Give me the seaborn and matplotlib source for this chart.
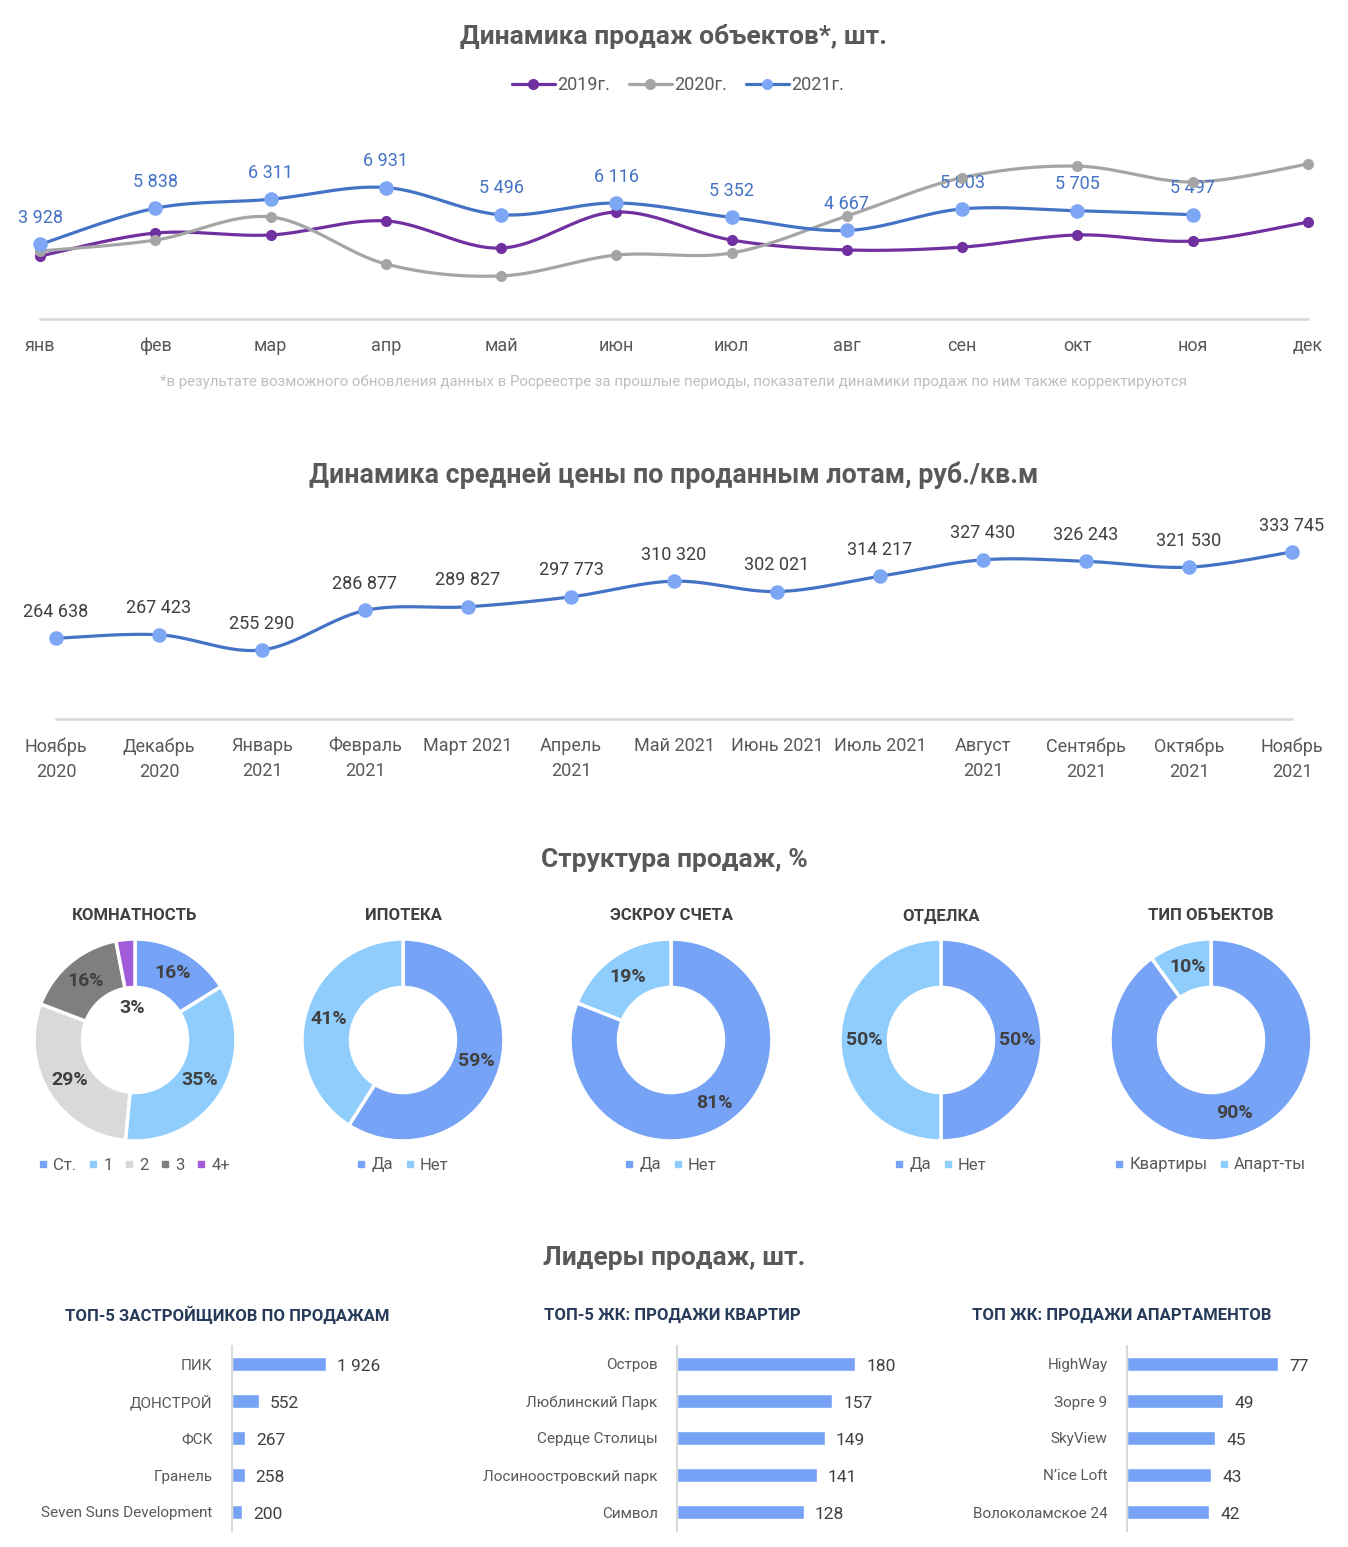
import numpy as np
import matplotlib
matplotlib.use('Agg')
import matplotlib.pyplot as plt
from matplotlib.lines import Line2D
import seaborn as sns

sns.set_theme(style='white')
plt.rcParams['font.family'] = ['Roboto', 'DejaVu Sans']

# ---------- данные ----------
months = ['янв', 'фев', 'мар', 'апр', 'май', 'июн', 'июл', 'авг', 'сен', 'окт', 'ноя', 'дек']
sales_2019 = [3320, 4530, 4430, 5170, 3740, 5640, 4160, 3640, 3790, 4430, 4110, 5110]
sales_2020 = [3580, 4160, 5380, 2900, 2270, 3370, 3480, 5430, 7450, 8060, 7220, 8170]
sales_2021 = [3928, 5838, 6311, 6931, 5496, 6116, 5352, 4667, 5803, 5705, 5497]

price_months = ['Ноябрь\n2020', 'Декабрь\n2020', 'Январь\n2021', 'Февраль\n2021', 'Март 2021',
                'Апрель\n2021', 'Май 2021', 'Июнь 2021', 'Июль 2021', 'Август\n2021',
                'Сентябрь\n2021', 'Октябрь\n2021', 'Ноябрь\n2021']
price = [264638, 267423, 255290, 286877, 289827, 297773, 310320, 302021, 314217,
         327430, 326243, 321530, 333745]

rooms_labels = ['Ст.', '1', '2', '3', '4+']
rooms_share = [16, 35, 29, 16, 3]
mortgage_labels = ['Да', 'Нет']
mortgage_share = [59, 41]
escrow_labels = ['Да', 'Нет']
escrow_share = [81, 19]
finish_labels = ['Да', 'Нет']
finish_share = [50, 50]
type_labels = ['Квартиры', 'Апарт-ты']
type_share = [90, 10]

dev_names = ['ПИК', 'ДОНСТРОЙ', 'ФСК', 'Гранель', 'Seven Suns Development']
dev_sales = [1926, 552, 267, 258, 200]
flat_names = ['Остров', 'Люблинский Парк', 'Сердце Столицы', 'Лосиноостровский парк', 'Символ']
flat_sales = [180, 157, 149, 141, 128]
apt_names = ['HighWay', 'Зорге 9', 'SkyView', 'N’ice Loft', 'Волоколамское 24']
apt_sales = [77, 49, 45, 43, 42]

# ---------- оформление ----------
W, H = 1348, 1547
fig = plt.figure(figsize=(W / 100, H / 100), dpi=100)
fig.patch.set_facecolor('white')

TITLE_C = '#595959'
TEXT_C = '#404040'
BLUE_LINE = '#4472C4'
BLUE_MARK = '#7DA7F5'
MID_BLUE = '#77A3F6'
LIGHT_BLUE = '#8FCDFD'


def px_axes(x0, y0, x1, y1):
    return fig.add_axes([x0 / W, 1 - y1 / H, (x1 - x0) / W, (y1 - y0) / H])


def fig_text(x, y, s, **kw):
    fig.text(x / W, 1 - y / H, s, ha='center', va='center', **kw)


def fmt(v):
    return f'{v:,}'.replace(',', ' ')


def smooth(vals, n=30):
    # сглаживание как в Excel (Catmull-Rom через кривые Безье)
    p = np.column_stack([np.arange(len(vals)), np.asarray(vals, float)])
    ext = np.vstack([p[0], p, p[-1]])
    out = []
    t = np.linspace(0, 1, n)[:, None]
    for i in range(len(p) - 1):
        p0, p1, p2, p3 = ext[i], ext[i + 1], ext[i + 2], ext[i + 3]
        c1 = p1 + (p2 - p0) / 6
        c2 = p2 - (p3 - p1) / 6
        seg = ((1 - t) ** 3) * p1 + 3 * ((1 - t) ** 2) * t * c1 + 3 * (1 - t) * t ** 2 * c2 + t ** 3 * p2
        out.append(seg if i == 0 else seg[1:])
    out = np.vstack(out)
    return out[:, 0], out[:, 1]


# ---------- 1. Динамика продаж ----------
fig_text(674, 36, 'Динамика продаж объектов*, шт.', fontsize=19, fontweight='bold', color=TITLE_C)

ax1 = px_axes(40, 120, 1308, 319)
series = [('2019г.', sales_2019, '#7030A0', '#7030A0', 8),
          ('2020г.', sales_2020, '#A5A5A5', '#A5A5A5', 8),
          ('2021г.', sales_2021, BLUE_LINE, BLUE_MARK, 10.5)]
handles = []
for name, vals, lc, mc, ms in series:
    sx, sy = smooth(vals)
    sns.lineplot(x=sx, y=sy, sort=False, color=lc, linewidth=2.3, ax=ax1, legend=False)
    sns.scatterplot(x=np.arange(len(vals)), y=vals, color=mc, s=ms ** 2, edgecolor=mc,
                    linewidth=0, ax=ax1, zorder=5, clip_on=False, legend=False)
    handles.append(Line2D([0], [0], color=lc, lw=2.3, marker='o', ms=7,
                          markerfacecolor=mc, markeredgecolor=mc))
for i, v in enumerate(sales_2021):
    ax1.annotate(fmt(v), (i, v), xytext=(0, 19), textcoords='offset points',
                 ha='center', va='center', fontsize=13, color=BLUE_LINE)
ax1.set_xlim(0, 11)
ax1.set_ylim(0, 10490)
ax1.set_xticks(range(12))
ax1.set_xticklabels(months, fontsize=13, color=TITLE_C)
ax1.set_yticks([])
ax1.tick_params(axis='x', length=0, pad=13)
for s in ['top', 'right', 'left']:
    ax1.spines[s].set_visible(False)
ax1.spines['bottom'].set_color('#D9D9D9')
ax1.spines['bottom'].set_linewidth(1.8)
ax1.patch.set_alpha(0)

fig.legend(handles, [s[0] for s in series], loc='center', bbox_to_anchor=(678 / W, 1 - 85 / H),
           ncol=3, frameon=False, fontsize=13, handlelength=2.4, handletextpad=0.15,
           columnspacing=1.0, labelcolor=TITLE_C)

fig_text(674, 382, '*в результате возможного обновления данных в Росреестре за прошлые периоды, '
                   'показатели динамики продаж по ним также корректируются',
         fontsize=10.8, color='#BFBFBF')

# ---------- 2. Средняя цена ----------
fig_text(674, 475, 'Динамика средней цены по проданным лотам, руб./кв.м',
         fontsize=19.3, fontweight='bold', color=TITLE_C)
ax2 = px_axes(56, 500, 1292, 719)
sx, sy = smooth(price)
sns.lineplot(x=sx, y=sy, sort=False, color=BLUE_LINE, linewidth=2.3, ax=ax2, legend=False)
sns.scatterplot(x=np.arange(len(price)), y=price, color=BLUE_MARK, s=110, linewidth=0,
                ax=ax2, zorder=5, clip_on=False, legend=False)
for i, v in enumerate(price):
    ax2.annotate(fmt(v), (i, v), xytext=(0, 19), textcoords='offset points',
                 ha='center', va='center', fontsize=13, color=TEXT_C)
ax2.set_xlim(0, len(price) - 1)
ax2.set_ylim(200000, 375300)
ax2.set_xticks(range(len(price)))
ax2.set_xticklabels(price_months, fontsize=13, color=TITLE_C, linespacing=1.5)
ax2.set_yticks([])
ax2.tick_params(axis='x', length=0, pad=13)
for s in ['top', 'right', 'left']:
    ax2.spines[s].set_visible(False)
ax2.spines['bottom'].set_color('#D9D9D9')
ax2.spines['bottom'].set_linewidth(1.8)
ax2.patch.set_alpha(0)

# ---------- 3. Структура продаж ----------
fig_text(674, 860, 'Структура продаж, %', fontsize=19, fontweight='bold', color=TITLE_C)
donuts = [
    ('КОМНАТНОСТЬ', rooms_share, rooms_labels, [MID_BLUE, LIGHT_BLUE, '#D9D9D9', '#7F7F7F', '#A35CD8'], 135),
    ('ИПОТЕКА', mortgage_share, mortgage_labels, [MID_BLUE, LIGHT_BLUE], 403),
    ('ЭСКРОУ СЧЕТА', escrow_share, escrow_labels, [MID_BLUE, LIGHT_BLUE], 671),
    ('ОТДЕЛКА', finish_share, finish_labels, [MID_BLUE, LIGHT_BLUE], 941),
    ('ТИП ОБЪЕКТОВ', type_share, type_labels, [MID_BLUE, LIGHT_BLUE], 1211),
]
R = 101
CY = 1040
for title, vals, labels, colors, cx in donuts:
    ax = px_axes(cx - R, CY - R, cx + R, CY + R)
    ax.pie(vals, colors=colors, startangle=90, counterclock=False, radius=1,
           wedgeprops=dict(width=0.48, edgecolor='white', linewidth=2.5))
    ax.set_xlim(-1, 1)
    ax.set_ylim(-1, 1)
    ax.set_aspect('equal')
    total = sum(vals)
    start = 0
    for v in vals:
        mid = (start + v / 2) / total * 2 * np.pi
        r = 0.32 if v < 5 else 0.76
        ax.text(r * np.sin(mid), r * np.cos(mid), f'{v}%', ha='center', va='center',
                fontsize=14, fontweight='bold', color=TEXT_C)
        start += v
    fig_text(cx, 916, title, fontsize=12, fontweight='bold', color=TEXT_C)
    lh = [Line2D([0], [0], marker='s', ls='none', ms=5, markerfacecolor=c, markeredgecolor=c)
          for c in colors]
    fig.legend(lh, labels, loc='center', bbox_to_anchor=(cx / W, 1 - 1165 / H), ncol=len(labels),
               frameon=False, fontsize=12, handlelength=0.4, handletextpad=0.4,
               columnspacing=0.8, labelcolor=TITLE_C)

# ---------- 4. Лидеры продаж ----------
fig_text(674, 1258, 'Лидеры продаж, шт.', fontsize=19, fontweight='bold', color=TITLE_C)
# (заголовок, подписи, значения, левый край оси в px, px на единицу, центр заголовка)
panels = [
    ('ТОП-5 ЗАСТРОЙЩИКОВ ПО ПРОДАЖАМ', dev_names, dev_sales, 232, 0.0488, 227),
    ('ТОП-5 ЖК: ПРОДАЖИ КВАРТИР', flat_names, flat_sales, 677, 0.99, 672),
    ('ТОП ЖК: ПРОДАЖИ АПАРТАМЕНТОВ', apt_names, apt_sales, 1127, 1.961, 1122),
]
AXW = 200
for title, names, vals, x0, ppu, tx in panels:
    ax = px_axes(x0, 1345.5, x0 + AXW, 1530.5)
    sns.barplot(x=vals, y=names, orient='h', color=MID_BLUE, width=0.38, saturation=1, ax=ax)
    for i, v in enumerate(vals):
        ax.annotate(fmt(v), (v, i), xytext=(8, -1.5), textcoords='offset points',
                    ha='left', va='center', fontsize=12.5, color=TEXT_C)
    ax.set_xlim(0, AXW / ppu)
    ax.set_ylim(4.5, -0.5)
    ax.set_xticks([])
    ax.set_xlabel('')
    ax.set_ylabel('')
    ax.tick_params(axis='y', length=0, pad=14, labelsize=11, labelcolor=TITLE_C)
    for s in ['top', 'right', 'bottom']:
        ax.spines[s].set_visible(False)
    ax.spines['left'].set_color('#D9D9D9')
    ax.spines['left'].set_linewidth(1.5)
    ax.patch.set_alpha(0)
    fig_text(tx, 1315, title, fontsize=12, fontweight='bold', color='#263A5A')

fig.savefig('out.png', dpi=100, facecolor='white')
